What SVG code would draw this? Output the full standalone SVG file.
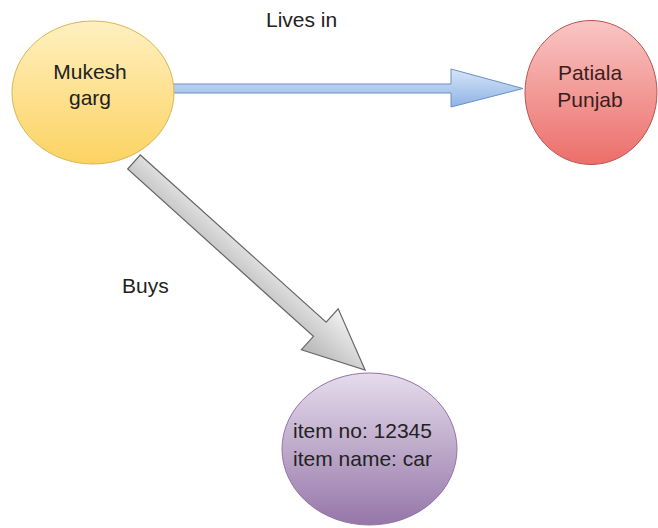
<svg xmlns="http://www.w3.org/2000/svg" width="658" height="528" viewBox="0 0 658 528">
<defs>
<linearGradient id="gY" x1="0" y1="0" x2="0" y2="1"><stop offset="0" stop-color="#fff0c0"/><stop offset="1" stop-color="#fcd362"/></linearGradient>
<linearGradient id="gR" x1="0" y1="0" x2="0" y2="1"><stop offset="0" stop-color="#f9c6c4"/><stop offset="1" stop-color="#ec6e6a"/></linearGradient>
<linearGradient id="gP" x1="0" y1="0" x2="0" y2="1"><stop offset="0" stop-color="#e6dcec"/><stop offset="1" stop-color="#9576a8"/></linearGradient>
<linearGradient id="gB" x1="0" y1="0" x2="0" y2="1"><stop offset="0" stop-color="#d6e5f8"/><stop offset="1" stop-color="#8fb3e6"/></linearGradient>
<linearGradient id="gG" x1="0" y1="0" x2="0" y2="1"><stop offset="0" stop-color="#f2f2f2"/><stop offset="1" stop-color="#b5b5b5"/></linearGradient>
</defs>
<style>
text{font-family:"Liberation Sans",Arial,sans-serif;font-size:21px;fill:#222;text-anchor:middle}
.lbl{text-anchor:start}
</style>
<g id="connectors">
<g id="lives-in">
<path d="M172,84 L451,84 L451,69 L523,88.5 L451,107 L451,93 L172,93 Z" fill="url(#gB)" stroke="#6c8ebf" stroke-width="1"/>
</g>
<g id="buys" transform="translate(134,162) rotate(42)">
<path d="M0,-9.5 L250,-9.5 L250,-27.5 L311,0 L250,27.5 L250,9.5 L0,9.5 Z" fill="url(#gG)" stroke="#666" stroke-width="1.2"/>
</g>
<text class="lbl" x="266" y="27">Lives in</text>
<text class="lbl" x="122" y="293">Buys</text>
</g>
<g id="mukesh">
<ellipse cx="93" cy="92.5" rx="81" ry="71.5" fill="url(#gY)" stroke="#d6b656" stroke-width="1"/>
<text x="90" y="79">Mukesh</text>
<text x="90" y="105">garg</text>
</g>
<g id="patiala">
<ellipse cx="591" cy="92.5" rx="66" ry="72" fill="url(#gR)" stroke="#b85450" stroke-width="1"/>
<text x="590" y="80" style="fill:#3a1e1e">Patiala</text>
<text x="590" y="107" style="fill:#3a1e1e">Punjab</text>
</g>
<g id="item">
<ellipse cx="369.5" cy="449" rx="87.5" ry="76" fill="url(#gP)" stroke="#9673a6" stroke-width="1"/>
<text x="362.5" y="438">item no: 12345</text>
<text x="362.5" y="466">item name: car</text>
</g>
</svg>
